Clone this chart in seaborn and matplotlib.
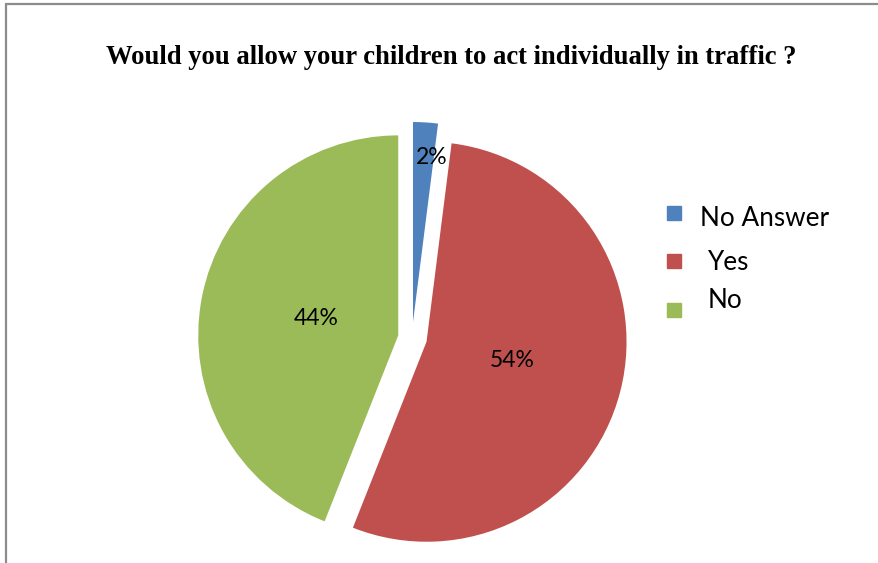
import numpy as np
import matplotlib
matplotlib.use("Agg")
import matplotlib.pyplot as plt
import seaborn as sns
from matplotlib.lines import Line2D
from matplotlib.patches import Rectangle

# data
categories = ['No Answer', 'Yes', 'No']
shares = [2, 54, 44]
pct_labels = ['2%', '54%', '44%']
title = 'Would you allow your children to act individually in traffic ?'

sns.set_theme(style="white")
plt.rcParams['font.family'] = ['Lato', 'DejaVu Sans']
colors = sns.color_palette(['#4F81BD', '#C0504D', '#9BBB59'])

W, H = 879, 563
fig = plt.figure(figsize=(W / 100, H / 100), dpi=100)
ax = fig.add_axes([0, 0, 1, 1])

# pie centre in pixels and radius
cx, cy, R = 412, 563 - 338, 200.0

wedges, texts = ax.pie(shares, colors=colors, startangle=90, counterclock=False,
                       explode=[0.08, 0.075, 0.07], radius=1.0,
                       wedgeprops=dict(linewidth=0))

# percentage labels near the middle of each wedge
label_r = [0.83, 0.44, 0.42]
label_da = [-3, 2, -1]
for w, lab, r, da in zip(wedges, pct_labels, label_r, label_da):
    ang = np.deg2rad((w.theta1 + w.theta2) / 2 + da)
    x0, y0 = w.center
    ax.text(x0 + r * np.cos(ang), y0 + r * np.sin(ang), lab,
            ha='center', va='center', fontsize=16.5, color='black')

ax.set_xlim(-cx / R, (W - cx) / R)
ax.set_ylim(-cy / R, (H - cy) / R)
ax.set_aspect('auto')
ax.axis('off')

# title
fig.text(451 / W, 1 - 58 / H, title, ha='center', va='center', color='black',
         fontsize=19.2, fontweight='bold', family='Liberation Serif')

# legend
leg_y = [218, 262, 301]
sq_y = [213, 261, 310]
for name, c, ty, sy in zip(categories, colors, leg_y, sq_y):
    fig.patches.append(Rectangle((667 / W, 1 - (sy + 7) / H), 14 / W, 14 / H,
                                 transform=fig.transFigure, color=c, figure=fig))
    tx = 700 if name == 'No Answer' else 708
    fig.text(tx / W, 1 - ty / H, name, ha='left', va='center',
             fontsize=18.8, color='black')

# chart border (top and left)
fig.lines.append(Line2D([6 / W, 1], [1 - 4 / H, 1 - 4 / H], transform=fig.transFigure,
                        color='#8c8c8c', linewidth=1.6))
fig.lines.append(Line2D([6 / W, 6 / W], [0, 1 - 4 / H], transform=fig.transFigure,
                        color='#8c8c8c', linewidth=1.6))

fig.savefig('out.png', dpi=100, facecolor='white')
